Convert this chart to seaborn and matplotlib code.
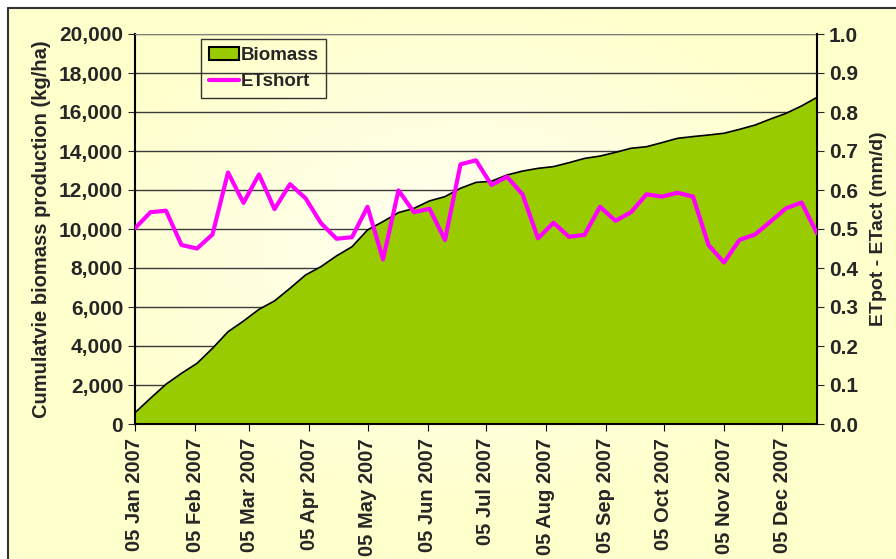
import seaborn as sns
import matplotlib.pyplot as plt
import matplotlib.dates as mdates
import matplotlib.ticker as mticker
from matplotlib.patches import Rectangle
import numpy as np
import pandas as pd

# Datos (cada 8 dias desde el 05 Jan 2007)
fechas = pd.date_range("2007-01-05", periods=45, freq="8D")
biomasa = [580, 1320, 2040, 2600, 3110, 3880, 4730, 5280, 5880, 6310,
           6960, 7640, 8070, 8620, 9090, 9950, 10380, 10840, 11060, 11440,
           11660, 12090, 12390, 12450, 12770, 12970, 13110, 13200, 13400, 13620,
           13740, 13930, 14140, 14220, 14430, 14650, 14740, 14820, 14910, 15110,
           15330, 15640, 15930, 16310, 16750]
et_short = [0.502, 0.543, 0.547, 0.459, 0.450, 0.486, 0.645, 0.567, 0.640, 0.551,
            0.615, 0.579, 0.515, 0.475, 0.479, 0.557, 0.422, 0.599, 0.543, 0.552,
            0.472, 0.666, 0.676, 0.613, 0.634, 0.589, 0.476, 0.516, 0.480, 0.485,
            0.557, 0.521, 0.543, 0.589, 0.583, 0.593, 0.583, 0.459, 0.414, 0.472,
            0.486, 0.519, 0.553, 0.568, 0.489]
meses = [pd.Timestamp(2007, m, 5) for m in range(1, 13)]

df = pd.DataFrame({"fecha": fechas, "Biomass": biomasa, "ETshort": et_short})

sns.set_style("white")
plt.rcParams["font.family"] = ["Liberation Sans", "DejaVu Sans"]
plt.rcParams["font.weight"] = "bold"
plt.rcParams["axes.labelweight"] = "bold"

W, H = 896, 559
fig = plt.figure(figsize=(W / 100, H / 100), dpi=100)
fig.patch.set_facecolor("white")

# Fondo con degradado amarillo claro
bg = fig.add_axes([0, 0, 1, 1], zorder=-10)
yy, xx = np.mgrid[0:1:200j, 0:1:300j]
r = np.sqrt(((xx - 0.52) / 0.75) ** 2 + ((yy - 0.55) / 0.75) ** 2)
t = np.clip(r * 1.6, 0, 1)[..., None]
c0 = np.array([1.0, 1.0, 0.96])
c1 = np.array([1.0, 1.0, 0.80])
img = c0 * (1 - t) + c1 * t
bg.imshow(img, extent=[0, 1, 0, 1], aspect="auto", origin="lower")
bg.add_patch(Rectangle((0, 0), 8 / W, 1, color="white", zorder=2))
bg.add_patch(Rectangle((0, 1 - 8 / H), 1, 8 / H, color="white", zorder=2))
bg.plot([8 / W, 8 / W], [0, 1 - 8 / H], color="#333333", lw=1.5, zorder=3)
bg.plot([8 / W, 1], [1 - 8 / H, 1 - 8 / H], color="#333333", lw=1.5, zorder=3)
bg.set_xlim(0, 1)
bg.set_ylim(0, 1)
bg.axis("off")

left, right = 135 / W, 817 / W
bottom, top = (H - 424) / H, (H - 34) / H
ax = fig.add_axes([left, bottom, right - left, top - bottom])
ax.patch.set_alpha(0)

ax.fill_between(df["fecha"], df["Biomass"], 0, color="#99CC00", zorder=2,
                label="Biomass", edgecolor="none")
sns.lineplot(data=df, x="fecha", y="Biomass", ax=ax, color="black", lw=1.2,
             zorder=3, legend=False)
ax.set_ylim(0, 20000)
ax.set_xlim(fechas[0], fechas[-1])
ax.yaxis.set_major_locator(mticker.MultipleLocator(2000))
ax.yaxis.set_major_formatter(mticker.StrMethodFormatter("{x:,.0f}"))
ax.grid(axis="y", color="#3a3a3a", lw=1, zorder=1)
ax.set_axisbelow(True)
ax.set_xticks(meses)
ax.xaxis.set_major_formatter(mdates.DateFormatter("%d %b %Y"))
ax.tick_params(axis="x", rotation=90, labelsize=14.5, length=5, direction="out",
               color="black", bottom=True, pad=5)
ax.tick_params(axis="y", labelsize=15, length=5, direction="out", left=True)
ax.set_xlabel("")
ax.set_ylabel("Cumulatvie biomass production (kg/ha)", fontsize=14.5, labelpad=6)
for lab in ax.get_xticklabels() + ax.get_yticklabels():
    lab.set_fontweight("bold")
for s in ["left", "bottom"]:
    ax.spines[s].set_color("black")
    ax.spines[s].set_linewidth(1.5)
ax.spines["top"].set_color("#808080")
ax.spines["right"].set_visible(False)

ax2 = ax.twinx()
ax2.patch.set_alpha(0)
sns.lineplot(data=df, x="fecha", y="ETshort", ax=ax2, color="#FF00FF", lw=3,
             zorder=4, legend=False)
ax2.set_ylim(0, 1.0)
ax2.yaxis.set_major_locator(mticker.MultipleLocator(0.1))
ax2.yaxis.set_major_formatter(mticker.StrMethodFormatter("{x:.1f}"))
ax2.tick_params(axis="y", labelsize=15, length=5, direction="out", right=True)
ax2.set_ylabel("ETpot - ETact (mm/d)", fontsize=14, labelpad=9)
for lab in ax2.get_yticklabels():
    lab.set_fontweight("bold")
ax2.spines["right"].set_color("black")
ax2.spines["right"].set_linewidth(1.5)
for s in ["left", "top", "bottom"]:
    ax2.spines[s].set_visible(False)

h1 = Rectangle((0, 0), 1, 1, facecolor="#99CC00", edgecolor="black", lw=1.5)
h2 = plt.Line2D([], [], color="#FF00FF", lw=3)
leg = ax2.legend([h1, h2], ["Biomass", "ETshort"], loc="upper left",
                 bbox_to_anchor=(0.097, 0.987), fontsize=13.5, frameon=True,
                 fancybox=False, handlelength=1.6, borderpad=0.4,
                 labelspacing=0.5, handletextpad=0.1, borderaxespad=0)
leg.get_frame().set_edgecolor("#333333")
leg.get_frame().set_linewidth(1)
leg.get_frame().set_alpha(None)
leg.get_frame().set_facecolor((1, 1, 0.85, 0.0))
for txt in leg.get_texts():
    txt.set_fontweight("bold")

fig.savefig("out.png", dpi=100)
